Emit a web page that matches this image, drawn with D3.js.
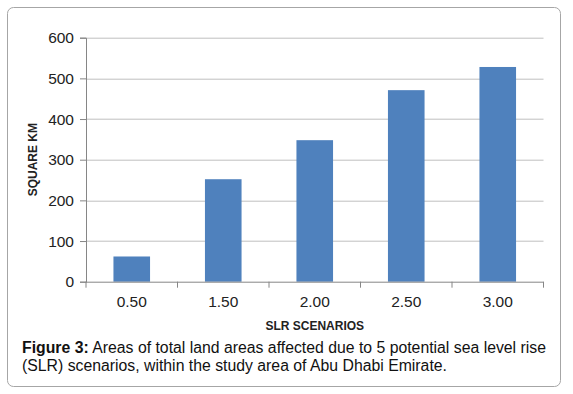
<!DOCTYPE html>
<html>
<head>
<meta charset="utf-8">
<script src="https://cdn.jsdelivr.net/npm/d3@7"></script>
<style>
  body { margin: 0; background: #fff; }
  svg { display: block; }
</style>
</head>
<body>
<div id="chart"></div>
<script>
// chart data
const scenarios = ["0.50", "1.50", "2.00", "2.50", "3.00"];
const areas = [62, 252, 348, 471, 528];
const yTicks = [0, 100, 200, 300, 400, 500, 600];

const W = 573, H = 394;
const margin = { top: 37.7, right: 29.5, bottom: 112.3, left: 86 };
const width = W - margin.left - margin.right;
const height = H - margin.top - margin.bottom;
const font = "'Liberation Sans', Arial, sans-serif";

const svg = d3.select("#chart").append("svg")
    .attr("width", W)
    .attr("height", H);

// outer frame
svg.append("rect")
    .attr("x", 7.5)
    .attr("y", 7.5)
    .attr("width", 553)
    .attr("height", 379)
    .attr("rx", 6)
    .attr("fill", "#fff")
    .attr("stroke", "#a6a6a6")
    .attr("stroke-width", 1);

const g = svg.append("g")
    .attr("transform", `translate(${margin.left},${margin.top})`);

const x = d3.scaleBand()
    .domain(scenarios)
    .range([0, width])
    .paddingInner(0.6)
    .paddingOuter(0.3);

const y = d3.scaleLinear()
    .domain([0, 600])
    .range([height, 0]);

// gridlines
g.append("g")
    .selectAll("line")
    .data(yTicks.filter(d => d > 0))
    .join("line")
    .attr("x1", 0)
    .attr("x2", width)
    .attr("y1", d => Math.round(y(d)) + 0.5)
    .attr("y2", d => Math.round(y(d)) + 0.5)
    .attr("stroke", "#bfbfbf")
    .attr("stroke-width", 1);

// bars
g.append("g")
    .selectAll("rect")
    .data(scenarios)
    .join("rect")
    .attr("x", (d) => x(d))
    .attr("y", (d, i) => y(areas[i]))
    .attr("width", x.bandwidth())
    .attr("height", (d, i) => height - y(areas[i]))
    .attr("fill", "#4f81bd");

// y axis
const yAxis = g.append("g")
    .call(d3.axisLeft(y).tickValues(yTicks).tickSize(6).tickPadding(6));
yAxis.select(".domain").attr("stroke", "#868686");
yAxis.selectAll(".tick line").attr("stroke", "#868686");
yAxis.selectAll("text")
    .style("font-family", font)
    .style("font-size", "15.5px")
    .attr("fill", "#222");

// x axis: ticks sit on category boundaries
const boundaries = d3.range(scenarios.length + 1).map(i => i * width / scenarios.length);
const xAxisG = g.append("g")
    .attr("transform", `translate(0,${height})`);
xAxisG.append("line")
    .attr("x1", 0)
    .attr("x2", width)
    .attr("y1", 0.5)
    .attr("y2", 0.5)
    .attr("stroke", "#868686");
xAxisG.selectAll(".xtick")
    .data(boundaries)
    .join("line")
    .attr("class", "xtick")
    .attr("x1", d => d)
    .attr("x2", d => d)
    .attr("y1", 0)
    .attr("y2", 6)
    .attr("stroke", "#868686");
xAxisG.selectAll(".xlabel")
    .data(scenarios)
    .join("text")
    .attr("class", "xlabel")
    .attr("x", d => x(d) + x.bandwidth() / 2)
    .attr("y", 25)
    .attr("text-anchor", "middle")
    .style("font-family", font)
    .style("font-size", "15.5px")
    .attr("fill", "#222")
    .text(d => d);

// axis titles
svg.append("text")
    .attr("x", margin.left + width / 2)
    .attr("y", 329.5)
    .attr("text-anchor", "middle")
    .style("font-family", font)
    .style("font-size", "12px")
    .style("font-weight", "bold")
    .attr("fill", "#222")
    .text("SLR SCENARIOS");

svg.append("text")
    .attr("transform", `translate(37,${margin.top + height / 2}) rotate(-90)`)
    .attr("text-anchor", "middle")
    .style("font-family", font)
    .style("font-size", "12px")
    .style("font-weight", "bold")
    .attr("fill", "#222")
    .text("SQUARE KM");

// caption
const caption = svg.append("text")
    .style("font-family", font)
    .style("font-size", "15.8px")
    .attr("fill", "#111");
const line1 = caption.append("tspan")
    .attr("x", 22)
    .attr("y", 352.5);
line1.append("tspan").style("font-weight", "bold").text("Figure 3:");
line1.append("tspan").text(" Areas of total land areas affected due to 5 potential sea level rise");
caption.append("tspan")
    .attr("x", 22)
    .attr("y", 370.5)
    .text("(SLR) scenarios, within the study area of Abu Dhabi Emirate.");
</script>
</body>
</html>
